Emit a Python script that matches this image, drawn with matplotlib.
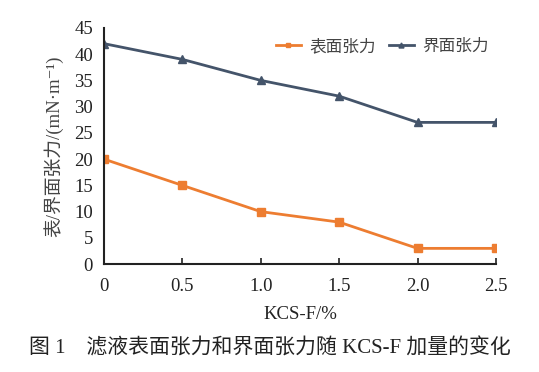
import matplotlib.pyplot as plt

plt.rcParams['font.family'] = ['Liberation Serif', 'Noto Sans CJK SC', 'DejaVu Sans']
plt.rcParams['axes.unicode_minus'] = False

# KCS-F 加量 (%)
kcs_dose = [0, 0.5, 1.0, 1.5, 2.0, 2.5]
x_labels = ['0', '0.5', '1.0', '1.5', '2.0', '2.5']
# 表面张力 / 界面张力 (mN/m)
surface_tension = [20, 15, 10, 8, 3, 3]
interface_tension = [42, 39, 35, 32, 27, 27]

fig = plt.figure(figsize=(5.39, 3.72), dpi=100)
ax = fig.add_axes([0.193, 0.29, 0.727, 0.635])

ax.plot(kcs_dose, surface_tension, color='#ED7D31', marker='s', markersize=6,
        linewidth=2, label='表面张力')
ax.plot(kcs_dose, interface_tension, color='#44546A', marker='^', markersize=6,
        linewidth=2, label='界面张力')

ax.set_xlim(0, 2.5)
ax.set_ylim(0, 45)
ax.set_xticks(kcs_dose)
ax.set_xticklabels(x_labels)
ax.set_yticks(range(0, 46, 5))
ax.tick_params(axis='x', direction='in', length=4, width=1.2, labelsize=13.5, pad=10, colors='#222222')
ax.tick_params(axis='y', direction='in', length=0, labelsize=13.5, pad=8, colors='#222222')
for s in ['top', 'right']:
    ax.spines[s].set_visible(False)
for s in ['left', 'bottom']:
    ax.spines[s].set_linewidth(1.5)
    ax.spines[s].set_color('#222222')

ax.set_xlabel('KCS-F/%', fontsize=13.5, color='#222222', labelpad=8)
ax.set_ylabel('表/界面张力/(mN·m⁻¹)', fontsize=13.5, color='#444444', labelpad=8)

leg = ax.legend(loc='upper right', bbox_to_anchor=(1.02, 1.02), ncol=2, frameon=False,
                prop={'family': ['Noto Sans CJK SC'], 'size': 12}, handlelength=1.5,
                columnspacing=0.8, handletextpad=0.5, markerscale=0.6)
for t in leg.get_texts():
    t.set_color('#444444')

fig.text(0.5, 0.062, '图 1　滤液表面张力和界面张力随 KCS-F 加量的变化', ha='center', va='center',
         fontsize=15, color='#222222')

fig.savefig('out.png', dpi=100)
